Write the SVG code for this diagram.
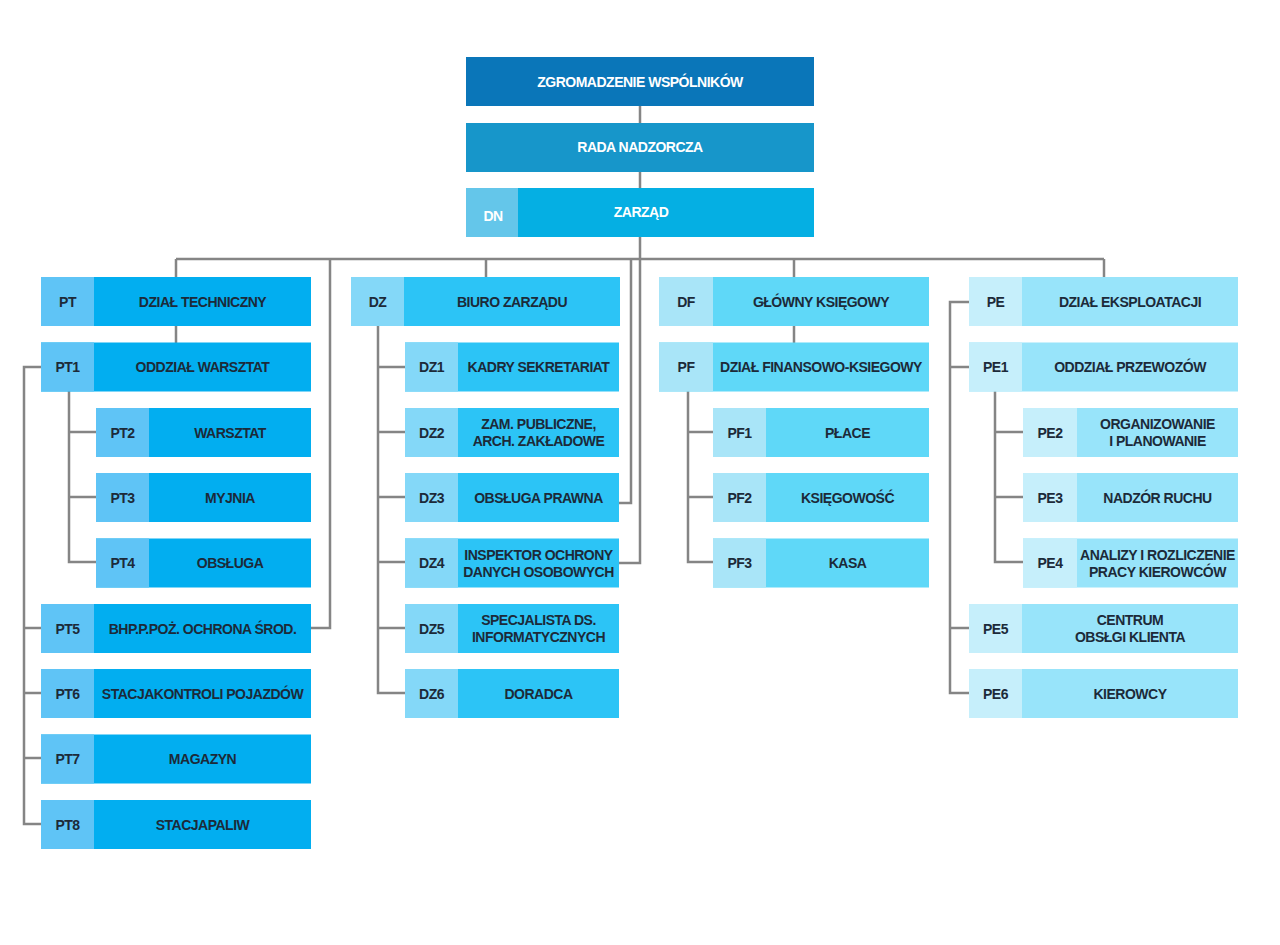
<svg xmlns="http://www.w3.org/2000/svg" width="1280" height="945" viewBox="0 0 1280 945">
<style>
  text { font-family: "Liberation Sans", Arial, sans-serif; font-weight: bold; font-size: 14px; letter-spacing: -0.5px; fill: #1c2a39; text-anchor: middle; dominant-baseline: central; }
  text.w { fill: #ffffff; }
  .top1 { fill: #0a76b9; }
  .top2 { fill: #1796ca; }
  .top3 { fill: #05afe3; }
  .top3c { fill: #64c6ea; }
  .c1m { fill: #02aef0; }
  .c1c { fill: #5fc4f6; }
  .c2m { fill: #2cc4f6; }
  .c2c { fill: #84d8f8; }
  .c3m { fill: #5fd8f8; }
  .c3c { fill: #a9e5f8; }
  .c4m { fill: #98e4fa; }
  .c4c { fill: #c6effb; }
  #connectors path { fill: none; stroke: #858585; stroke-width: 2.5; }
</style>

<!-- connectors -->
<g id="connectors">
  <path d="M640 106V123M640 172V188M640 237V563H619"/>
  <path d="M176 259H1104"/>
  <path d="M176 259V277M176 326V343"/>
  <path d="M330 259V628H311"/>
  <path d="M486 259V277"/>
  <path d="M631 259V503H619"/>
  <path d="M794 259V277M794 326V343"/>
  <path d="M1104 259V277"/>
  <!-- Dział techniczny -->
  <path d="M41 367H24V824H41M24 628H41M24 693H41M24 758H41"/>
  <path d="M69 391V562H96M69 432H96M69 497H96"/>
  <!-- Biuro zarządu -->
  <path d="M378 326V693H405M378 367H405M378 432H405M378 497H405M378 562H405M378 628H405"/>
  <!-- Główny księgowy -->
  <path d="M688 391V562H713M688 432H713M688 497H713"/>
  <!-- Dział eksploatacji -->
  <path d="M969 302H950V693H969M950 367H969M950 628H969"/>
  <path d="M995 391V562H1023M995 432H1023M995 497H1023"/>
</g>

<!-- top -->
<g id="zgromadzenie">
  <rect class="top1" x="466" y="57" width="348" height="49"/>
  <text class="w" x="640" y="81.5">ZGROMADZENIE WSPÓLNIKÓW</text>
</g>
<g id="rada">
  <rect class="top2" x="466" y="123" width="348" height="49"/>
  <text class="w" x="640" y="147">RADA NADZORCZA</text>
</g>
<g id="zarzad">
  <rect class="top3" x="466" y="188" width="348" height="49"/>
  <rect class="top3c" x="466" y="188" width="52" height="49"/>
  <text class="w" x="493" y="215.5">DN</text>
  <text class="w" x="641" y="212">ZARZĄD</text>
</g>

<!-- column 1 -->
<g id="pt">
  <rect class="c1m" x="41" y="277" width="270" height="49"/><rect class="c1c" x="41" y="277" width="53" height="49"/>
  <text x="67.5" y="301.5">PT</text><text x="202.5" y="301.5">DZIAŁ TECHNICZNY</text>
</g>
<g id="pt1">
  <rect class="c1m" x="41" y="342.5" width="270" height="49"/><rect class="c1c" x="41" y="342.5" width="53" height="49"/>
  <text x="67.5" y="367">PT1</text><text x="202.5" y="367">ODDZIAŁ WARSZTAT</text>
</g>
<g id="pt2">
  <rect class="c1m" x="96" y="408" width="215" height="49"/><rect class="c1c" x="96" y="408" width="53" height="49"/>
  <text x="122.5" y="432.5">PT2</text><text x="230" y="432.5">WARSZTAT</text>
</g>
<g id="pt3">
  <rect class="c1m" x="96" y="473" width="215" height="49"/><rect class="c1c" x="96" y="473" width="53" height="49"/>
  <text x="122.5" y="497.5">PT3</text><text x="230" y="497.5">MYJNIA</text>
</g>
<g id="pt4">
  <rect class="c1m" x="96" y="538.5" width="215" height="49"/><rect class="c1c" x="96" y="538.5" width="53" height="49"/>
  <text x="122.5" y="563">PT4</text><text x="230" y="563">OBSŁUGA</text>
</g>
<g id="pt5">
  <rect class="c1m" x="41" y="604" width="270" height="49"/><rect class="c1c" x="41" y="604" width="53" height="49"/>
  <text x="67.5" y="628.5">PT5</text><text x="202.5" y="628.5">BHP.P.POŻ. OCHRONA ŚROD.</text>
</g>
<g id="pt6">
  <rect class="c1m" x="41" y="669" width="270" height="49"/><rect class="c1c" x="41" y="669" width="53" height="49"/>
  <text x="67.5" y="693.5">PT6</text><text x="202.5" y="693.5">STACJAKONTROLI POJAZDÓW</text>
</g>
<g id="pt7">
  <rect class="c1m" x="41" y="734.5" width="270" height="49"/><rect class="c1c" x="41" y="734.5" width="53" height="49"/>
  <text x="67.5" y="759">PT7</text><text x="202.5" y="759">MAGAZYN</text>
</g>
<g id="pt8">
  <rect class="c1m" x="41" y="800" width="270" height="49"/><rect class="c1c" x="41" y="800" width="53" height="49"/>
  <text x="67.5" y="824.5">PT8</text><text x="202.5" y="824.5">STACJAPALIW</text>
</g>

<!-- column 2 -->
<g id="dz">
  <rect class="c2m" x="351" y="277" width="269" height="49"/><rect class="c2c" x="351" y="277" width="53" height="49"/>
  <text x="377.5" y="301.5">DZ</text><text x="512" y="301.5">BIURO ZARZĄDU</text>
</g>
<g id="dz1">
  <rect class="c2m" x="405" y="342.5" width="214" height="49"/><rect class="c2c" x="405" y="342.5" width="53" height="49"/>
  <text x="431.5" y="367">DZ1</text><text x="538.5" y="367">KADRY SEKRETARIAT</text>
</g>
<g id="dz2">
  <rect class="c2m" x="405" y="408" width="214" height="49"/><rect class="c2c" x="405" y="408" width="53" height="49"/>
  <text x="431.5" y="432.5">DZ2</text><text x="538.5" y="424">ZAM. PUBLICZNE,</text><text x="538.5" y="441">ARCH. ZAKŁADOWE</text>
</g>
<g id="dz3">
  <rect class="c2m" x="405" y="473" width="214" height="49"/><rect class="c2c" x="405" y="473" width="53" height="49"/>
  <text x="431.5" y="497.5">DZ3</text><text x="538.5" y="497.5">OBSŁUGA PRAWNA</text>
</g>
<g id="dz4">
  <rect class="c2m" x="405" y="538.5" width="214" height="49"/><rect class="c2c" x="405" y="538.5" width="53" height="49"/>
  <text x="431.5" y="563">DZ4</text><text x="538.5" y="554.5">INSPEKTOR OCHRONY</text><text x="538.5" y="571.5">DANYCH OSOBOWYCH</text>
</g>
<g id="dz5">
  <rect class="c2m" x="405" y="604" width="214" height="49"/><rect class="c2c" x="405" y="604" width="53" height="49"/>
  <text x="431.5" y="628.5">DZ5</text><text x="538.5" y="620">SPECJALISTA DS.</text><text x="538.5" y="637">INFORMATYCZNYCH</text>
</g>
<g id="dz6">
  <rect class="c2m" x="405" y="669" width="214" height="49"/><rect class="c2c" x="405" y="669" width="53" height="49"/>
  <text x="431.5" y="693.5">DZ6</text><text x="538.5" y="693.5">DORADCA</text>
</g>

<!-- column 3 -->
<g id="df">
  <rect class="c3m" x="659" y="277" width="270" height="49"/><rect class="c3c" x="659" y="277" width="54" height="49"/>
  <text x="686" y="301.5">DF</text><text x="821" y="301.5">GŁÓWNY KSIĘGOWY</text>
</g>
<g id="pf">
  <rect class="c3m" x="659" y="342.5" width="270" height="49"/><rect class="c3c" x="659" y="342.5" width="54" height="49"/>
  <text x="686" y="367">PF</text><text x="821" y="367">DZIAŁ FINANSOWO-KSIEGOWY</text>
</g>
<g id="pf1">
  <rect class="c3m" x="713" y="408" width="216" height="49"/><rect class="c3c" x="713" y="408" width="53" height="49"/>
  <text x="739.5" y="432.5">PF1</text><text x="847.5" y="432.5">PŁACE</text>
</g>
<g id="pf2">
  <rect class="c3m" x="713" y="473" width="216" height="49"/><rect class="c3c" x="713" y="473" width="53" height="49"/>
  <text x="739.5" y="497.5">PF2</text><text x="847.5" y="497.5">KSIĘGOWOŚĆ</text>
</g>
<g id="pf3">
  <rect class="c3m" x="713" y="538.5" width="216" height="49"/><rect class="c3c" x="713" y="538.5" width="53" height="49"/>
  <text x="739.5" y="563">PF3</text><text x="847.5" y="563">KASA</text>
</g>

<!-- column 4 -->
<g id="pe">
  <rect class="c4m" x="969" y="277" width="269" height="49"/><rect class="c4c" x="969" y="277" width="53" height="49"/>
  <text x="995.5" y="301.5">PE</text><text x="1130" y="301.5">DZIAŁ EKSPLOATACJI</text>
</g>
<g id="pe1">
  <rect class="c4m" x="969" y="342.5" width="269" height="49"/><rect class="c4c" x="969" y="342.5" width="53" height="49"/>
  <text x="995.5" y="367">PE1</text><text x="1130" y="367">ODDZIAŁ PRZEWOZÓW</text>
</g>
<g id="pe2">
  <rect class="c4m" x="1023" y="408" width="215" height="49"/><rect class="c4c" x="1023" y="408" width="54" height="49"/>
  <text x="1050" y="432.5">PE2</text><text x="1157.5" y="424">ORGANIZOWANIE</text><text x="1157.5" y="441">I PLANOWANIE</text>
</g>
<g id="pe3">
  <rect class="c4m" x="1023" y="473" width="215" height="49"/><rect class="c4c" x="1023" y="473" width="54" height="49"/>
  <text x="1050" y="497.5">PE3</text><text x="1157.5" y="497.5">NADZÓR RUCHU</text>
</g>
<g id="pe4">
  <rect class="c4m" x="1023" y="538.5" width="215" height="49"/><rect class="c4c" x="1023" y="538.5" width="54" height="49"/>
  <text x="1050" y="563">PE4</text><text x="1157.5" y="554.5">ANALIZY I ROZLICZENIE</text><text x="1157.5" y="571.5">PRACY KIEROWCÓW</text>
</g>
<g id="pe5">
  <rect class="c4m" x="969" y="604" width="269" height="49"/><rect class="c4c" x="969" y="604" width="53" height="49"/>
  <text x="995.5" y="628.5">PE5</text><text x="1130" y="620">CENTRUM</text><text x="1130" y="637">OBSŁGI KLIENTA</text>
</g>
<g id="pe6">
  <rect class="c4m" x="969" y="669" width="269" height="49"/><rect class="c4c" x="969" y="669" width="53" height="49"/>
  <text x="995.5" y="693.5">PE6</text><text x="1130" y="693.5">KIEROWCY</text>
</g>
</svg>
